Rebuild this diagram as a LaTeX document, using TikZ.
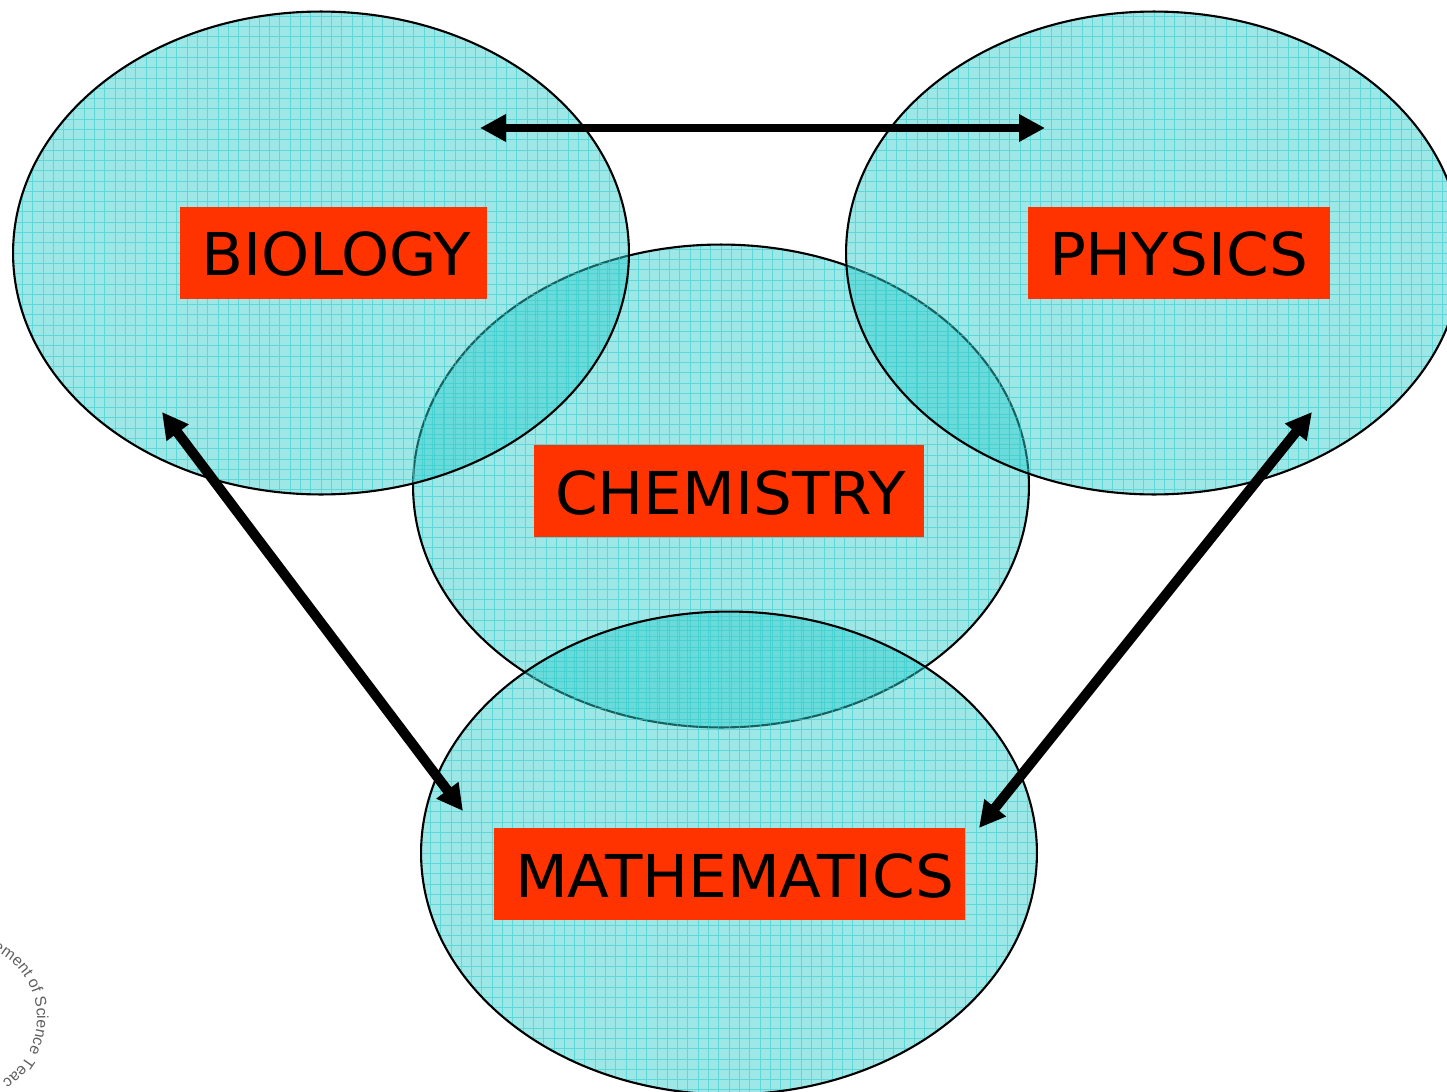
\documentclass[tikz,border=0pt]{standalone}
\usepackage{fontspec}
\setmainfont[FakeStretch=1.037]{DejaVu Sans}
\newfontfamily\sealfont{Liberation Sans}
\usetikzlibrary{arrows.meta,decorations.text,shapes.geometric}
\definecolor{ovalTeal}{HTML}{33CCCC}
\definecolor{labelRed}{HTML}{FF3300}
\definecolor{sealGray}{HTML}{606060}
\tikzset{
  subject/.style={ellipse,draw=black,line width=1.2pt,fill=ovalTeal,fill opacity=.48,
    minimum width=12.32cm,minimum height=9.66cm,inner sep=0pt,
    path picture={\draw[ovalTeal,line width=.42pt,draw opacity=.6,step=.206cm]
      (path picture bounding box.south west) grid (path picture bounding box.north east);}},
  labelbox/.style={fill=labelRed,text=black,font=\fontsize{33.6}{34}\selectfont,
    inner xsep=.42cm,inner ysep=0pt,minimum height=1.84cm,align=left,
    text width=#1,text height=.92cm,text depth=0pt},
  link/.style={<->,>={Triangle[length=.52cm,width=.52cm]},line width=.16cm,black},
  thicklink/.style={link,line width=.2cm},
}
\begin{document}
\begin{tikzpicture}[x=.02cm,y=-.02cm]
  \useasboundingbox (0,0) rectangle (1447,1092);
  \clip (0,0) rectangle (1447,1092);
  % seal at the lower left
  \path[postaction={decorate,decoration={text along path,
      text={|\sealfont\fontsize{9}{10}\selectfont\color{sealGray}|ement of Science Teac},text align=left}}]
    (-7.5,949.5) arc[start angle=-66,end angle=66,radius=75];
  % ovals
  \node[subject] (chemistry) at (721,486) {};
  \node[subject] (biology) at (321,253) {};
  \node[subject] (physics) at (1154,253) {};
  \node[subject] (mathematics) at (729,853) {};
  % labels
  \node[labelbox=5.30cm] (biologyLabel) at (333.5,253) {BIOLOGY};
  \node[labelbox=5.20cm] (physicsLabel) at (1179,253) {PHYSICS};
  \node[labelbox=6.96cm] (chemistryLabel) at (729,491) {CHEMISTRY};
  \node[labelbox=8.58cm] (mathematicsLabel) at (729.5,874) {MATHEMATICS};
  % arrow ends
  \coordinate (biologyTop) at (480,128);
  \coordinate (physicsTop) at (1045,128);
  \coordinate (biologyLow) at (162,412);
  \coordinate (mathLeft) at (463,811);
  \coordinate (physicsLow) at (1312,412);
  \coordinate (mathRight) at (979,828);
  \draw[link] (biologyTop) -- (physicsTop);
  \draw[thicklink] (biologyLow) -- (mathLeft);
  \draw[thicklink] (physicsLow) -- (mathRight);
\end{tikzpicture}
\end{document}
